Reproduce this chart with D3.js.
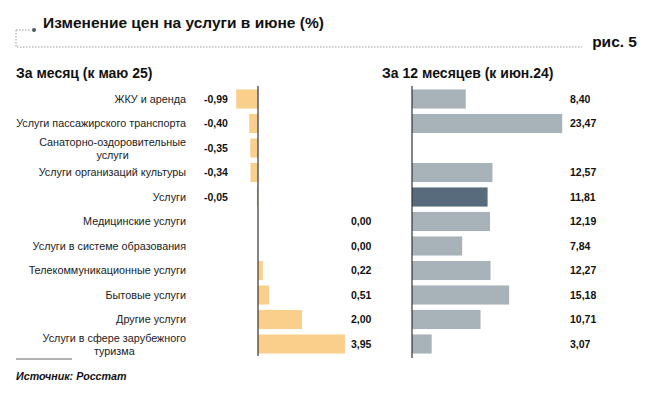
<!DOCTYPE html>
<html><head><meta charset="utf-8">
<script src="https://cdn.jsdelivr.net/npm/d3@7"></script>
<style>
body{margin:0;background:#fff;}
svg{display:block;font-family:"Liberation Sans",Arial,sans-serif;}
</style></head>
<body>
<svg id="c" width="650" height="397"></svg>
<script>
const categories = [
  ["ЖКУ и аренда"],
  ["Услуги пассажирского транспорта"],
  ["Санаторно-оздоровительные","услуги"],
  ["Услуги организаций культуры"],
  ["Услуги"],
  ["Медицинские услуги"],
  ["Услуги в системе образования"],
  ["Телекоммуникационные услуги"],
  ["Бытовые услуги"],
  ["Другие услуги"],
  ["Услуги в сфере зарубежного","туризма"]
];
const monthValues = [-0.99,-0.40,-0.35,-0.34,-0.05,0.00,0.00,0.22,0.51,2.00,3.95];
const yearValues = [8.40,23.47,null,12.57,11.81,12.19,7.84,12.27,15.18,10.71,3.07];
const highlightIndex = 4;

const svg = d3.select("#c");
const fmt = v => d3.format(".2f")(v).replace(".", ",").replace("−","-");

// Header
svg.append("text").attr("x",43).attr("y",28).attr("font-size",15.5)
  .attr("font-weight","bold").attr("fill","#111").text("Изменение цен на услуги в июне (%)");
const dot = "#9a9a9a";
svg.append("path").attr("d","M16,30 H31 M16,30 V47 H582").attr("fill","none")
  .attr("stroke",dot).attr("stroke-width",1).attr("stroke-dasharray","1.5,1.5");
svg.append("circle").attr("cx",34).attr("cy",30).attr("r",2).attr("fill","#4a5a6a");
svg.append("text").attr("x",637).attr("y",47).attr("text-anchor","end").attr("font-size",15.5)
  .attr("font-weight","bold").attr("fill","#111").text("рис. 5");

svg.append("text").attr("x",16).attr("y",78).attr("font-size",14).attr("font-weight","bold")
  .attr("fill","#111").text("За месяц (к маю 25)");
svg.append("text").attr("x",382).attr("y",78).attr("font-size",14).attr("font-weight","bold")
  .attr("fill","#111").text("За 12 месяцев (к июн.24)");

const idx = d3.range(categories.length);
const y = d3.scaleBand().domain(idx).range([87,356]).paddingInner(0.22).paddingOuter(0.1);

// Left panel
const xL = d3.scaleLinear().domain([0,1]).range([258,280]);
svg.append("g").selectAll("rect").data(idx).join("rect")
  .attr("x",i=>Math.min(xL(0),xL(monthValues[i])))
  .attr("width",i=>Math.abs(xL(monthValues[i])-xL(0)))
  .attr("y",i=>y(i)).attr("height",y.bandwidth())
  .attr("fill","#F9CF8B");
svg.append("line").attr("x1",xL(0)).attr("x2",xL(0)).attr("y1",86).attr("y2",356)
  .attr("stroke","#333").attr("stroke-width",1.2);

const labG = svg.append("g").attr("font-size",10.8).attr("fill","#222");
idx.forEach(i=>{
  const cy = y(i)+y.bandwidth()/2;
  const lines = categories[i];
  if(lines.length===1){
    labG.append("text").attr("x",186).attr("y",cy).attr("dy","0.35em")
      .attr("text-anchor","end").text(lines[0]);
  } else {
    const t = labG.append("text").attr("x",186).attr("y",cy-6).attr("dy","0.35em")
      .attr("text-anchor","end").text(lines[0]);
    const w = t.node().getComputedTextLength();
    labG.append("text").attr("x",186-w/2).attr("y",cy+7).attr("dy","0.35em")
      .attr("text-anchor","middle").text(lines[1]);
  }
  const v = monthValues[i];
  labG.append("text").attr("x",v<0?204:351).attr("y",cy).attr("dy","0.35em")
    .attr("font-size",10.5).attr("font-weight","bold").attr("fill","#111").text(fmt(v));
});

// Right panel
const xR = d3.scaleLinear().domain([0,10]).range([412,476]);
const rIdx = idx.filter(i=>yearValues[i]!==null);
svg.append("g").selectAll("rect").data(rIdx).join("rect")
  .attr("x",xR(0)).attr("width",i=>xR(yearValues[i])-xR(0))
  .attr("y",i=>y(i)).attr("height",y.bandwidth())
  .attr("fill",i=>i===highlightIndex?"#586B7C":"#A8B2B9");
svg.append("line").attr("x1",xR(0)).attr("x2",xR(0)).attr("y1",86).attr("y2",358)
  .attr("stroke","#333").attr("stroke-width",1.2);
svg.append("g").attr("font-size",10.5).attr("font-weight","bold").attr("fill","#111")
  .selectAll("text").data(rIdx).join("text")
  .attr("x",570).attr("y",i=>y(i)+y.bandwidth()/2).attr("dy","0.35em")
  .text(i=>fmt(yearValues[i]));

// Footer
svg.append("line").attr("x1",16).attr("x2",72).attr("y1",359).attr("y2",359)
  .attr("stroke","#666").attr("stroke-width",1);
svg.append("text").attr("x",16).attr("y",380).attr("font-size",10.7).attr("font-weight","bold")
  .attr("font-style","italic").attr("fill","#111").text("Источник: Росстат");
</script>
</body></html>
